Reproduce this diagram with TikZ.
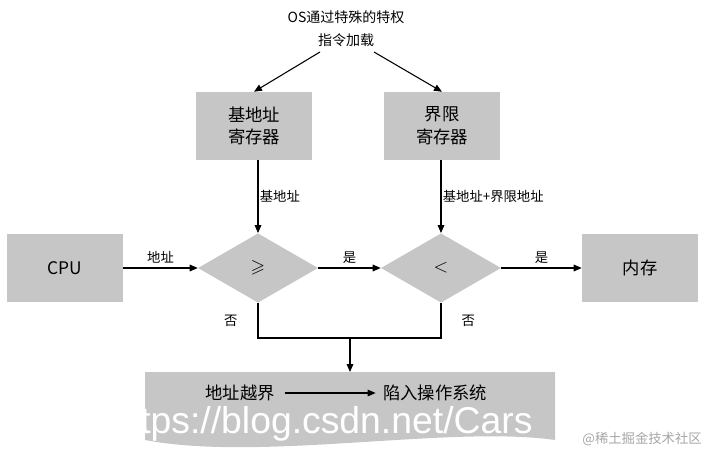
\documentclass[tikz,border=0pt]{standalone}
\usepackage{amssymb}
\usepackage{fontspec}
\setmainfont{Noto Sans CJK SC}
\newfontfamily\wmfont{Liberation Sans}
\usetikzlibrary{shapes.geometric,arrows.meta}
\begin{document}
\begin{tikzpicture}[x=0.75pt,y=-0.75pt,
  gbox/.style={fill=gray!45,minimum width=87pt,minimum height=51pt,align=center,font=\fontsize{13}{17}\selectfont,inner sep=0},
  gdia/.style={diamond,fill=gray!45,minimum width=90pt,minimum height=52pt,inner sep=0,font=\fontsize{14}{16}\selectfont},
  lab/.style={font=\fontsize{10}{12}\selectfont,inner sep=1pt},
  arr/.style={-{Triangle[length=6pt,width=5pt]},line width=0.8pt},
  ln/.style={line width=0.8pt}]
\useasboundingbox (0,0) rectangle (706,453);
\node[align=center,font=\fontsize{10.5}{17}\selectfont] (os) at (346,29) {OS通过特殊的特权\\指令加载};
\node[gbox] (base) at (254,126) {基地址\\寄存器};
\node[gbox] (lim) at (442,126) {界限\\寄存器};
\node[gbox] (cpu) at (65,268) {CPU};
\node[gbox] (mem) at (640,268) {内存};
\node[gdia] (d1) at (258,268) {$\geqslant$};
\node[gdia] (d2) at (441,268) {$<$};
\coordinate (os1) at (320,52);
\coordinate (os2) at (374,52);
\draw[arr] (os1) -- (base.north);
\draw[arr] (os2) -- (lim.north);
\draw[arr] (base.south -| d1.north) -- node[lab,right,pos=0.5]{基地址} (d1.north);
\draw[arr] (lim.south -| d2.north) -- node[lab,right,pos=0.5]{基地址+界限地址} (d2.north);
\draw[arr] (cpu.east) -- node[lab,above=2pt]{地址} (d1.west);
\draw[arr] (d1.east) -- node[lab,above=2pt]{是} (d2.west);
\draw[arr] (d2.east) -- node[lab,above=2pt]{是} (mem.west);
\coordinate (j1) at (258,338);
\coordinate (j2) at (441,338);
\coordinate (jm) at (350,338);
\draw[ln] (d1.south) -- node[lab,left=14pt]{否} (j1) -- (j2) -- node[lab,right=14pt]{否} (d2.south);
\fill[gray!45] (145,372) -- (555,372) -- (555,440) .. controls (450,425) and (260,462) .. (145,440) -- cycle;
\coordinate (bt) at (350,372);
\draw[arr] (jm) -- (bt);
\node[font=\fontsize{13}{16}\selectfont] (t1) at (240,393) {地址越界};
\node[font=\fontsize{13}{16}\selectfont] (t2) at (435,393) {陷入操作系统};
\draw[arr] ([xshift=4pt]t1.east) -- ([xshift=-2pt]t2.west);
\node[white,font=\fontsize{28}{30}\selectfont\wmfont,anchor=west,inner sep=0] (wm) at (140,424) {tps://blog.csdn.net/Cars};
\node[gray!70,font=\fontsize{10}{12}\selectfont,anchor=east,inner sep=0] (wm2) at (702,439) {@稀土掘金技术社区};
\end{tikzpicture}
\end{document}
